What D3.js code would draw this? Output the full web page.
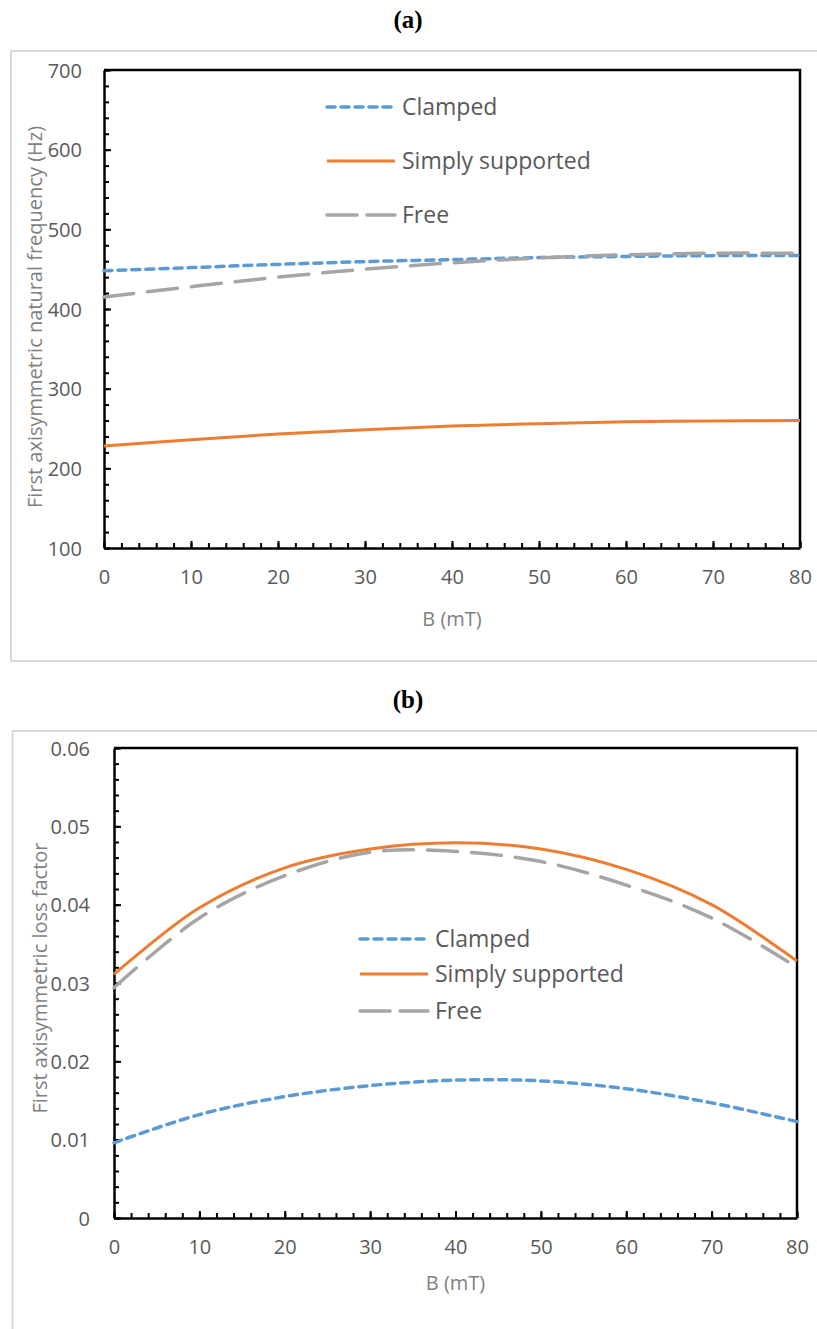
<!DOCTYPE html>
<html>
<head>
<meta charset="utf-8">
<script src="https://cdn.jsdelivr.net/npm/d3@7"></script>
<style>
  body { margin: 0; background: #fff; }
  svg { display: block; font-family: "Open Sans", "Noto Sans", sans-serif; }
</style>
</head>
<body>
<script>
// B field values (mT)
var fieldB = [0, 10, 20, 30, 40, 50, 60, 70, 80];

// (a) first axisymmetric natural frequency (Hz)
var freqClamped = [448, 452, 456, 459.5, 462, 464.5, 466, 467, 467];
var freqSimply = [228, 236, 243, 248.5, 253, 256, 258.5, 259.5, 260];
var freqFree = [415, 428, 440, 450, 458, 464, 468, 470, 470];

// (b) first axisymmetric loss factor
var lossClamped = [0.0096, 0.0132, 0.0155, 0.0169, 0.0176, 0.0175, 0.0165, 0.0147, 0.0123];
var lossSimply = [0.0311, 0.0396, 0.0447, 0.0471, 0.0479, 0.0471, 0.0445, 0.0400, 0.0328];
var lossFree = [0.0294, 0.0383, 0.0437, 0.0467, 0.0468, 0.0455, 0.0425, 0.0383, 0.0320];

var seriesNames = ["Clamped", "Simply supported", "Free"];
var xTicks = [0, 10, 20, 30, 40, 50, 60, 70, 80];
var freqTicks = [100, 200, 300, 400, 500, 600, 700];
var lossTicks = [0, 0.01, 0.02, 0.03, 0.04, 0.05, 0.06];

var styles = [
  { color: "#5B9BD5", width: 3.5, dash: "8,6" },
  { color: "#ED7D31", width: 3, dash: null },
  { color: "#A5A5A5", width: 3.5, dash: "30,14" }
];

var svg = d3.select("body").append("svg")
  .attr("width", 817)
  .attr("height", 1329);

function drawChart(opt) {
  // panel frame
  svg.append("rect")
    .attr("x", opt.frame[0]).attr("y", opt.frame[1])
    .attr("width", opt.frame[2]).attr("height", opt.frame[3])
    .attr("fill", "none").attr("stroke", "#d9d9d9").attr("stroke-width", 2);

  svg.append("text")
    .attr("x", 408).attr("y", opt.labelY)
    .attr("text-anchor", "middle")
    .style("font-family", "'Liberation Serif', serif")
    .style("font-weight", "bold")
    .style("font-size", "25px")
    .text(opt.label);

  var m = opt.plot;
  var width = m.right - m.left;
  var height = m.bottom - m.top;
  var g = svg.append("g").attr("transform", `translate(${m.left}, ${m.top})`);

  var x = d3.scaleLinear().domain([0, 80]).range([0, width]);
  var y = d3.scaleLinear().domain(opt.yDomain).range([height, 0]);

  // minor ticks
  g.append("g")
    .attr("transform", `translate(0, ${height})`)
    .call(d3.axisBottom(x).tickValues(d3.range(0, 81, 2)).tickSize(-5).tickFormat(""))
    .call(s => s.select(".domain").remove())
    .selectAll("line").attr("stroke", "#000").attr("stroke-width", 2);
  g.append("g")
    .call(d3.axisLeft(y).tickValues(opt.yMinor).tickSize(-5).tickFormat(""))
    .call(s => s.select(".domain").remove())
    .selectAll("line").attr("stroke", "#000").attr("stroke-width", 2);

  // major axes
  var xAxis = g.append("g")
    .attr("transform", `translate(0, ${height})`)
    .call(d3.axisBottom(x).tickValues(xTicks).tickSize(-7).tickSizeOuter(0).tickPadding(opt.xPad));
  var yAxis = g.append("g")
    .call(d3.axisLeft(y).tickValues(opt.yTicks).tickSize(-7).tickSizeOuter(0).tickPadding(opt.yPad).tickFormat(opt.yFormat));

  [xAxis, yAxis].forEach(function(a) {
    a.select(".domain").attr("stroke", "#000").attr("stroke-width", 2.5);
    a.selectAll(".tick line").attr("stroke", "#000").attr("stroke-width", 2);
    a.selectAll("text").attr("fill", "#595959").style("font-size", "20px")
      .style("font-family", "'Open Sans', sans-serif");
  });
  yAxis.selectAll("text").attr("dy", "0.36em");

  // top and right border of plot area
  g.append("path")
    .attr("d", `M0,0H${width}V${height}`)
    .attr("fill", "none").attr("stroke", "#000").attr("stroke-width", 2.5);

  // series
  var line = d3.line()
    .x((d, i) => x(fieldB[i]))
    .y(d => y(d))
    .curve(d3.curveCatmullRom.alpha(0.5));

  opt.series.forEach(function(vals, i) {
    var st = styles[i];
    g.append("path")
      .datum(vals)
      .attr("d", line)
      .attr("fill", "none")
      .attr("stroke", st.color)
      .attr("stroke-width", st.width)
      .attr("stroke-dasharray", st.dash)
      .attr("stroke-linecap", st.dash ? "round" : "butt");
  });

  // legend
  seriesNames.forEach(function(name, i) {
    var st = styles[i];
    var ly = opt.legend.ys[i];
    svg.append("line")
      .attr("x1", opt.legend.x).attr("x2", opt.legend.x + 68)
      .attr("y1", ly).attr("y2", ly)
      .attr("stroke", st.color)
      .attr("stroke-width", st.width)
      .attr("stroke-dasharray", st.dash ? (i == 0 ? "8,6" : "30,10") : null)
      .attr("stroke-linecap", st.dash ? "round" : "butt");
    svg.append("text")
      .attr("x", opt.legend.x + 75).attr("y", ly)
      .attr("dy", "0.36em")
      .attr("fill", "#595959")
      .style("font-size", "23px")
      .text(name);
  });

  // axis titles
  svg.append("text")
    .attr("transform", `translate(${opt.yTitlePos[0]}, ${opt.yTitlePos[1]}) rotate(-90)`)
    .attr("text-anchor", "middle")
    .attr("fill", "#7f7f7f")
    .style("font-size", "20px")
    .text(opt.yTitle);

  svg.append("text")
    .attr("x", m.left + width / 2).attr("y", opt.xTitleY)
    .attr("text-anchor", "middle")
    .attr("fill", "#7f7f7f")
    .style("font-size", "20px")
    .text("B (mT)");
}

drawChart({
  frame: [11, 51, 820, 610],
  label: "(a)",
  labelY: 28,
  plot: { left: 104, right: 800, top: 70, bottom: 548 },
  yDomain: [100, 700],
  yTicks: freqTicks,
  yMinor: d3.range(100, 701, 20),
  yFormat: d3.format("d"),
  xPad: 22,
  yPad: 22,
  series: [freqClamped, freqSimply, freqFree],
  legend: { x: 327, ys: [107, 161, 215] },
  yTitle: "First axisymmetric natural frequency (Hz)",
  yTitlePos: [42, 317],
  xTitleY: 626
});

drawChart({
  frame: [12.5, 731, 820, 640],
  label: "(b)",
  labelY: 708,
  plot: { left: 114, right: 797, top: 748, bottom: 1218 },
  yDomain: [0, 0.06],
  yTicks: lossTicks,
  yMinor: d3.range(0, 0.0601, 0.002),
  yFormat: d => d === 0 ? "0" : d3.format(".2f")(d),
  xPad: 22,
  yPad: 24,
  series: [lossClamped, lossSimply, lossFree],
  legend: { x: 360, ys: [939, 974, 1011] },
  yTitle: "First axisymmetric loss factor",
  yTitlePos: [47, 978],
  xTitleY: 1290
});
</script>
</body>
</html>
